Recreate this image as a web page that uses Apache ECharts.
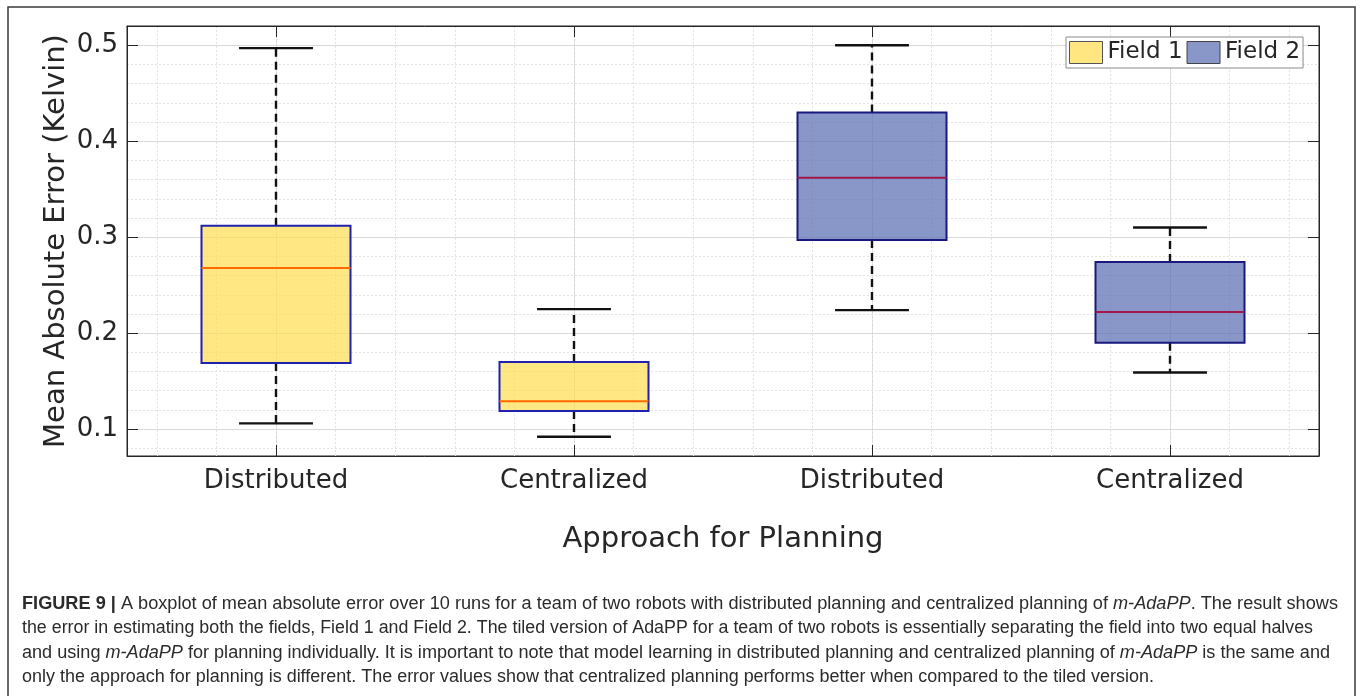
<!DOCTYPE html>
<html>
<head>
<meta charset="utf-8">
<script src="https://cdn.jsdelivr.net/npm/echarts@6/dist/echarts.min.js"></script>
<style>
html,body{margin:0;padding:0;background:#fff;}
#chart{width:1360px;height:696px;}
</style>
</head>
<body>
<div id="chart"></div>
<script>
// ---- data ----
const categories = ['Distributed', 'Centralized', 'Distributed', 'Centralized'];
const seriesNames = ['Field 1', 'Field 2'];
const field1Index = [0, 1];
const field1Min = [0.106, 0.092];
const field1Q1 = [0.169, 0.119];
const field1Median = [0.268, 0.129];
const field1Q3 = [0.312, 0.170];
const field1Max = [0.497, 0.225];
const field2Index = [2, 3];
const field2Min = [0.224, 0.159];
const field2Q1 = [0.297, 0.190];
const field2Median = [0.362, 0.222];
const field2Q3 = [0.430, 0.274];
const field2Max = [0.500, 0.310];
const yMin = 0.072, yMax = 0.52;
const xAxisTitle = 'Approach for Planning';
const yAxisTitle = 'Mean Absolute Error (Kelvin)';
const captionLines = [
  [['b', 'FIGURE 9 |'], ['n', ' A boxplot of mean absolute error over 10 runs for a team of two robots with distributed planning and centralized planning of '], ['i', 'm-AdaPP'], ['n', '. The result shows']],
  [['n', 'the error in estimating both the fields, Field 1 and Field 2. The tiled version of AdaPP for a team of two robots is essentially separating the field into two equal halves']],
  [['n', 'and using '], ['i', 'm-AdaPP'], ['n', ' for planning individually. It is important to note that model learning in distributed planning and centralized planning of '], ['i', 'm-AdaPP'], ['n', ' is the same and']],
  [['n', 'only the approach for planning is different. The error values show that centralized planning performs better when compared to the tiled version.']]
];

function zipBox(idx, mn, q1, md, q3, mx) {
  return idx.map((k, i) => [k, mn[i], q1[i], md[i], q3[i], mx[i]]);
}
const field1Data = zipBox(field1Index, field1Min, field1Q1, field1Median, field1Q3, field1Max);
const field2Data = zipBox(field2Index, field2Min, field2Q1, field2Median, field2Q3, field2Max);

const FONT = '"DejaVu Sans", sans-serif';
const AXC = '#262626';

function makeRender(fill, border, medianColor) {
  return function (params, api) {
    const idx = api.value(0);
    const band = api.size([1, 0])[0];
    const pMin = api.coord([idx, api.value(1)]);
    const pQ1 = api.coord([idx, api.value(2)]);
    const pMed = api.coord([idx, api.value(3)]);
    const pQ3 = api.coord([idx, api.value(4)]);
    const pMax = api.coord([idx, api.value(5)]);
    const cx = pMed[0];
    const hb = band * 0.25;
    const hc = band * 0.124;
    const wStyle = { stroke: '#111', lineWidth: 2.4, lineDash: [8, 5] };
    const cStyle = { stroke: '#111', lineWidth: 2.4 };
    return {
      type: 'group',
      children: [
        { type: 'line', shape: { x1: cx, y1: pQ3[1], x2: cx, y2: pMax[1] }, style: wStyle },
        { type: 'line', shape: { x1: cx, y1: pQ1[1], x2: cx, y2: pMin[1] }, style: wStyle },
        { type: 'line', shape: { x1: cx - hc, y1: pMax[1], x2: cx + hc, y2: pMax[1] }, style: cStyle },
        { type: 'line', shape: { x1: cx - hc, y1: pMin[1], x2: cx + hc, y2: pMin[1] }, style: cStyle },
        { type: 'rect', shape: { x: cx - hb, y: pQ3[1], width: 2 * hb, height: pQ1[1] - pQ3[1] }, style: { fill: fill, stroke: border, lineWidth: 2 } },
        { type: 'line', shape: { x1: cx - hb, y1: pMed[1], x2: cx + hb, y2: pMed[1] }, style: { stroke: medianColor, lineWidth: 2 } }
      ]
    };
  };
}

// ---- caption measuring ----
const CAP_FS = 17.5;
const CAP_FAMILY = '"Liberation Sans", Arial, sans-serif';
const capCtx = document.createElement('canvas').getContext('2d');
function segFont(t) {
  return (t === 'i' ? 'italic ' : '') + (t === 'b' ? 'bold ' : '') + CAP_FS + 'px ' + CAP_FAMILY;
}
function lineWidth(line) {
  let w = 0;
  line.forEach(([t, s]) => { capCtx.font = segFont(t); w += capCtx.measureText(s).width; });
  return w;
}
const capTargetWidths = [1316, 1291, 1308, 1132];
const capRich = {
  n: { fontFamily: CAP_FAMILY, fontSize: CAP_FS, fill: '#2b2b2b' },
  b: { fontFamily: CAP_FAMILY, fontSize: CAP_FS, fontWeight: 'bold', fill: '#2b2b2b' },
  i: { fontFamily: CAP_FAMILY, fontSize: CAP_FS, fontStyle: 'italic', fill: '#2b2b2b' }
};
const capBaselines = [610, 634.5, 659, 683.5];
const captionGraphics = captionLines.map((line, k) => ({
  type: 'text',
  x: 22,
  y: capBaselines[k] - 0.3465 * CAP_FS,
  scaleX: capTargetWidths[k] / lineWidth(line),
  silent: true,
  style: {
    text: line.map(([t, s]) => '{' + t + '|' + s + '}').join(''),
    rich: capRich,
    x: 0, y: 0,
    verticalAlign: 'middle',
    align: 'left'
  }
}));

const minorCats = Array.from({ length: categories.length * 5 }, () => '');

const chart = echarts.init(document.getElementById('chart'), null, { renderer: 'canvas' });
chart.setOption({
  backgroundColor: '#fff',
  animation: false,
  grid: { left: 127, top: 26, right: 41, bottom: 240, show: true, borderColor: AXC, borderWidth: 1, backgroundColor: 'transparent' },
  legend: {
    left: 1066, top: 37,
    orient: 'horizontal',
    itemWidth: 33, itemHeight: 22, itemGap: 4,
    padding: [4, 3, 4, 3],
    backgroundColor: '#fff',
    borderColor: '#8a8a8a', borderWidth: 1,
    icon: 'rect',
    textStyle: { fontFamily: FONT, fontSize: 23, color: AXC },
    data: [
      { name: seriesNames[0], itemStyle: { color: '#FFE680', borderColor: '#555', borderWidth: 1 } },
      { name: seriesNames[1], itemStyle: { color: '#8896C8', borderColor: '#444', borderWidth: 1 } }
    ],
    selectedMode: false
  },
  xAxis: [
    {
      type: 'category', data: categories, position: 'bottom', boundaryGap: true,
      axisLine: { show: true, lineStyle: { color: AXC, width: 1 } },
      axisTick: { show: true, inside: true, alignWithLabel: true, length: 11, lineStyle: { color: AXC } },
      axisLabel: { fontFamily: FONT, fontSize: 26, color: AXC, margin: 12 },
      splitLine: { show: true, alignWithLabel: true, lineStyle: { color: '#d9d9d9', width: 1 } },
      name: xAxisTitle, nameLocation: 'middle', nameGap: 69, nameMoveOverlap: false,
      nameTextStyle: { fontFamily: FONT, fontSize: 29, color: AXC }
    },
    {
      type: 'category', data: minorCats, position: 'top', boundaryGap: true,
      axisLine: { show: false }, axisTick: { show: false }, axisLabel: { show: false },
      splitLine: { show: true, alignWithLabel: true, lineStyle: { color: '#e3e3e3', width: 1, type: [2, 2] } }
    },
    {
      type: 'category', data: categories, position: 'top', boundaryGap: true,
      axisLine: { show: true, lineStyle: { color: AXC, width: 1 } },
      axisTick: { show: true, inside: true, alignWithLabel: true, length: 11, lineStyle: { color: AXC } },
      axisLabel: { show: false }, splitLine: { show: false }
    }
  ],
  yAxis: [
    {
      type: 'value', min: yMin, max: yMax, splitNumber: 5, position: 'left',
      axisLine: { show: true, lineStyle: { color: AXC, width: 1 } },
      axisTick: { show: true, inside: true, length: 11, lineStyle: { color: AXC } },
      axisLabel: {
        fontFamily: FONT, fontSize: 26, color: AXC, margin: 9,
        showMinLabel: false, showMaxLabel: false,
        formatter: v => (Math.abs(v * 10 - Math.round(v * 10)) < 1e-6 ? v.toFixed(1) : '')
      },
      splitLine: { show: true, lineStyle: { color: '#d9d9d9', width: 1 } },
      minorTick: { show: false, splitNumber: 5 },
      minorSplitLine: { show: true, lineStyle: { color: '#e3e3e3', width: 1, type: [2, 2] } },
      name: yAxisTitle, nameLocation: 'middle', nameGap: 56, nameMoveOverlap: false,
      nameTextStyle: { fontFamily: FONT, fontSize: 29, color: AXC }
    },
    {
      type: 'value', min: yMin, max: yMax, splitNumber: 5, position: 'right',
      axisLine: { show: true, lineStyle: { color: AXC, width: 1 } },
      axisTick: { show: true, inside: true, length: 11, lineStyle: { color: AXC } },
      axisLabel: { show: false }, splitLine: { show: false }
    }
  ],
  series: [
    {
      name: seriesNames[0], type: 'custom', xAxisIndex: 0, yAxisIndex: 0,
      itemStyle: { color: '#FFE680' },
      encode: { x: 0, y: [1, 2, 3, 4, 5] },
      renderItem: makeRender('rgba(255,221,80,0.7)', '#2121b0', '#ff6a00'),
      data: field1Data, z: 5
    },
    {
      name: seriesNames[1], type: 'custom', xAxisIndex: 0, yAxisIndex: 0,
      itemStyle: { color: '#8896C8' },
      encode: { x: 0, y: [1, 2, 3, 4, 5] },
      renderItem: makeRender('rgba(85,105,176,0.7)', '#18187e', '#a3164a'),
      data: field2Data, z: 5
    }
  ],
  graphic: [
    { type: 'rect', shape: { x: 8, y: 7, width: 1347, height: 720 }, style: { fill: 'none', stroke: '#3a3a3a', lineWidth: 1.5 }, silent: true, z: 0 }
  ].concat(captionGraphics)
});
</script>
</body>
</html>
